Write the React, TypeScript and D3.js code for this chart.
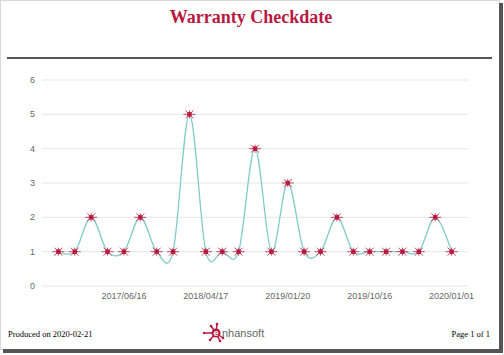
import React from "react";
import * as d3 from "d3";

const categories = [
  "2016/11/02", "2017/01/12", "2017/02/20", "2017/04/05", "2017/06/16",
  "2017/08/09", "2017/10/03", "2017/12/14", "2018/02/22", "2018/04/17",
  "2018/06/05", "2018/08/21", "2018/10/10", "2018/11/28", "2019/01/20",
  "2019/03/14", "2019/05/02", "2019/06/27", "2019/08/19", "2019/10/16",
  "2019/10/31", "2019/11/14", "2019/11/29", "2019/12/13", "2020/01/01",
];
const counts = [1, 1, 2, 1, 1, 2, 1, 1, 5, 1, 1, 1, 4, 1, 3, 1, 1, 2, 1, 1, 1, 1, 1, 2, 1];
const yTicks = [0, 1, 2, 3, 4, 5, 6];
const labelEvery = 5;
const title = "Warranty Checkdate";
const footerLeft = "Produced on 2020-02-21";
const footerRight = "Page 1 of 1";

const W = 504;
const H = 355;
const RED = "#b8193f";

export default function App() {
  const x = d3.scalePoint<string>().domain(categories).range([42, 468]).padding(1);
  const y = d3.scaleLinear().domain([0, 6]).range([286, 80]);
  const line = d3
    .line<number>()
    .x((_, i) => x(categories[i]) as number)
    .y((d) => y(d))
    .curve(d3.curveCardinal.tension(0));
  const tickCats = categories.filter((_, i) => (i + 1) % labelEvery === 0);

  return (
    <svg width={W} height={H} style={{ position: "absolute", left: 0, top: 0, background: "#fff" }}>
      {/* page frame */}
      <rect x={0.5} y={0.5} width={499} height={349} fill="#fff" stroke="#d8d8d8" />
      <rect x={499} y={3} width={4} height={350} fill="#555" />
      <rect x={3} y={349} width={500} height={4} fill="#555" />

      <text x={251} y={23} textAnchor="middle" fontFamily="Liberation Serif" fontWeight="bold" fontSize={18} fill={RED}>
        {title}
      </text>
      <line x1={7} x2={492} y1={58} y2={58} stroke="#555" strokeWidth={2} />

      {/* grid */}
      {yTicks.map((t) => (
        <g key={t}>
          <line x1={42} x2={468} y1={y(t)} y2={y(t)} stroke="#e6e6e6" strokeWidth={1} />
          <text x={35} y={y(t) + 3} textAnchor="end" fontFamily="Liberation Sans" fontSize={9} fill="#666">
            {t}
          </text>
        </g>
      ))}
      {tickCats.map((c) => (
        <text key={c} x={x(c) as number} y={299} textAnchor="middle" fontFamily="Liberation Sans" fontSize={9} fill="#666">
          {c}
        </text>
      ))}

      <path d={line(counts) || ""} fill="none" stroke="#82cbc8" strokeWidth={1.3} />

      {counts.map((v, i) => {
        const cx = x(categories[i]) as number;
        const cy = y(v);
        return (
          <g key={i} transform={`translate(${cx},${cy})`} stroke="#c44a66" strokeWidth={1}>
            <line x1={-6} x2={6} y1={0} y2={0} />
            <line x1={0} x2={0} y1={-4} y2={4} />
            <line x1={-4} x2={4} y1={-4} y2={4} />
            <line x1={-4} x2={4} y1={4} y2={-4} />
            <rect x={-2.2} y={-2.2} width={4.4} height={4.4} fill={RED} stroke="none" />
          </g>
        );
      })}

      {/* footer */}
      <text x={8} y={337} fontFamily="Liberation Serif" fontSize={8.5} fill="#000">
        {footerLeft}
      </text>
      <text x={490} y={337} textAnchor="end" fontFamily="Liberation Serif" fontSize={8.5} fill="#000">
        {footerRight}
      </text>
      <g transform="translate(216,333)" stroke={RED} strokeWidth={1.5} fill={RED}>
        <line x1={-12} x2={0} y1={0} y2={0} />
        <line x1={0} x2={-5} y1={0} y2={-7} />
        <line x1={0} x2={1} y1={0} y2={-9} />
        <line x1={0} x2={-6} y1={0} y2={7} />
        <line x1={0} x2={4} y1={0} y2={8} />
        <line x1={0} x2={7} y1={0} y2={5} />
        <circle cx={-12} cy={0} r={1.2} stroke="none" />
        <circle cx={-5} cy={-7} r={1.3} stroke="none" />
        <circle cx={1} cy={-9} r={1.3} stroke="none" />
        <circle cx={-6} cy={7} r={1.3} stroke="none" />
        <circle cx={4} cy={8} r={1.3} stroke="none" />
        <circle cx={7} cy={5} r={1.3} stroke="none" />
        <circle cx={0} cy={0} r={4.5} stroke="none" />
        <text x={0} y={3} textAnchor="middle" fontFamily="Liberation Sans" fontWeight="bold" fontSize={9} fill="#fff" stroke="none">
          e
        </text>
      </g>
      <text x={222} y={337} fontFamily="Liberation Sans" fontSize={11} fill="#666">
        nhansoft
      </text>
    </svg>
  );
}
